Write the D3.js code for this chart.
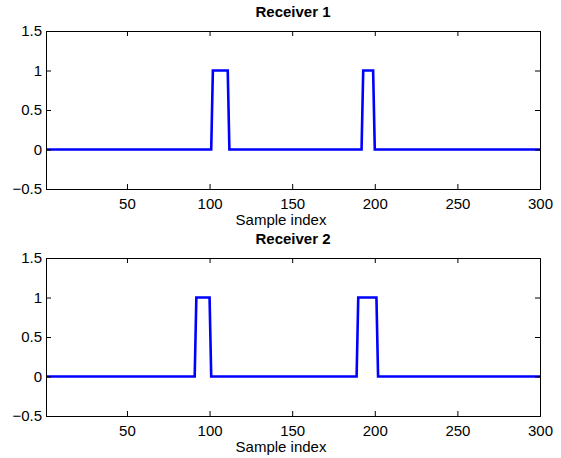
<!DOCTYPE html>
<html>
<head>
<meta charset="utf-8">
<script src="https://cdn.jsdelivr.net/npm/d3@7"></script>
<style>
  html, body { margin: 0; padding: 0; background: #fff; }
  svg { display: block; font-family: "Liberation Sans", Arial, Helvetica, sans-serif; }
</style>
</head>
<body>
<svg id="chart" width="561" height="458"></svg>
<script>
// Breakpoints of each received signal (sample index, amplitude)
const sampleIdx1 = [1, 101, 102, 111, 112, 192, 193, 199, 200, 300];
const receiver1  = [0, 0,   1,   1,   0,   0,   1,   1,   0,   0];
const sampleIdx2 = [1, 91, 92, 100, 101, 189, 190, 201, 202, 300];
const receiver2  = [0, 0,  1,  1,   0,   0,   1,   1,   0,   0];

const titles = ["Receiver 1", "Receiver 2"];
const xLabel = "Sample index";
const xTicks = [50, 100, 150, 200, 250, 300];
const yTicks = [-0.5, 0, 0.5, 1, 1.5];
const xDomain = [1, 300];
const yDomain = [-0.5, 1.5];

const svg = d3.select("#chart");
const left = 46, right = 540;
const panels = [
  { top: 31, bottom: 189, xs: sampleIdx1, ys: receiver1, title: titles[0] },
  { top: 258, bottom: 416, xs: sampleIdx2, ys: receiver2, title: titles[1] }
];
const fmt = v => (v < 0 ? "\u2212" : "") + Math.abs(v);

panels.forEach(p => {
  const x = d3.scaleLinear().domain(xDomain).range([left, right]);
  const y = d3.scaleLinear().domain(yDomain).range([p.bottom, p.top]);
  const g = svg.append("g");

  // data line
  const pts = p.xs.map((v, i) => [v, p.ys[i]]);
  g.append("path")
    .datum(pts)
    .attr("fill", "none")
    .attr("stroke", "#0000ff")
    .attr("stroke-width", 2.6)
    .attr("stroke-linejoin", "miter")
    .attr("d", d3.line().x(d => x(d[0])).y(d => y(d[1])));

  // axes (ticks inward, mirrored on all sides)
  const tl = 5;
  const bottomAx = d3.axisBottom(x).tickValues(xTicks).tickSize(-tl).tickPadding(9).tickFormat(fmt);
  const topAx = d3.axisTop(x).tickValues(xTicks).tickSize(-tl).tickFormat("");
  const leftAx = d3.axisLeft(y).tickValues(yTicks).tickSize(-tl).tickPadding(4).tickFormat(fmt);
  const rightAx = d3.axisRight(y).tickValues(yTicks).tickSize(-tl).tickFormat("");

  const axes = [
    g.append("g").attr("transform", `translate(0,${p.bottom})`).call(bottomAx),
    g.append("g").attr("transform", `translate(0,${p.top})`).call(topAx),
    g.append("g").attr("transform", `translate(${left},0)`).call(leftAx),
    g.append("g").attr("transform", `translate(${right},0)`).call(rightAx)
  ];
  axes.forEach(a => {
    a.select(".domain").attr("stroke", "#000").attr("stroke-width", 1);
    a.selectAll(".tick line").attr("stroke", "#000");
    a.selectAll("text").attr("fill", "#000").attr("font-size", 15)
      .attr("font-family", "'Liberation Sans', Arial, sans-serif");
  });

  // title and x label
  svg.append("text")
    .attr("x", (left + right) / 2).attr("y", p.top - 18)
    .attr("text-anchor", "middle").attr("dominant-baseline", "middle")
    .attr("font-size", 15).attr("font-weight", "bold")
    .text(p.title);
  svg.append("text")
    .attr("x", 281).attr("y", p.bottom + 32)
    .attr("text-anchor", "middle").attr("dominant-baseline", "middle")
    .attr("font-size", 15)
    .text(xLabel);
});
</script>
</body>
</html>
